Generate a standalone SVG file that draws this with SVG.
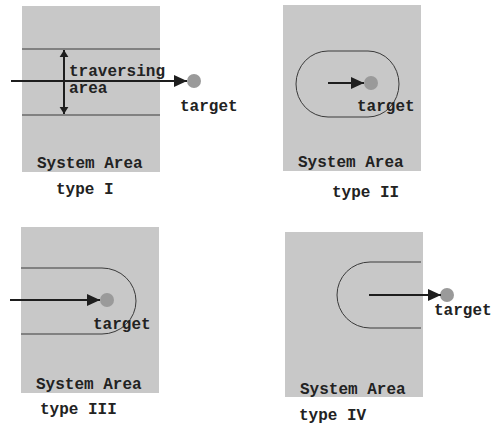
<svg xmlns="http://www.w3.org/2000/svg" width="491" height="424" viewBox="0 0 491 424">
  <defs>
    <marker id="head" viewBox="0 0 13 12" refX="13" refY="6" markerWidth="13" markerHeight="12" markerUnits="userSpaceOnUse" orient="auto-start-reverse">
      <path d="M0,0 L13,6 L0,12 Z" fill="#1e1e1e"/>
    </marker>
    <marker id="headSmall" viewBox="0 0 8 10" refX="8" refY="5" markerWidth="7" markerHeight="10" markerUnits="userSpaceOnUse" orient="auto-start-reverse">
      <path d="M0,0 L8,5 L0,10 Z" fill="#1e1e1e"/>
    </marker>
  </defs>
  <style>
    .area { fill: #c8c8c8; }
    .edge { fill: none; stroke: #3a3a3a; stroke-width: 1; }
    .arrow { fill: none; stroke: #1e1e1e; stroke-width: 2; marker-end: url(#head); }
    .span { fill: none; stroke: #1e1e1e; stroke-width: 2; marker-start: url(#headSmall); marker-end: url(#headSmall); }
    .target { fill: #9a9a9a; }
    text { font-family: "Liberation Mono", "DejaVu Sans Mono", monospace; font-size: 16px; font-weight: bold; fill: #222222; }
  </style>
  <rect width="491" height="424" fill="#ffffff"/>

  <!-- type I: traversing band across the area -->
  <g id="type-1">
    <rect class="area" x="22" y="6" width="138" height="166"/>
    <line class="edge" x1="22" y1="49" x2="160" y2="49"/>
    <line class="edge" x1="22" y1="115" x2="160" y2="115"/>
    <circle class="target" cx="194" cy="81" r="7"/>
    <text x="69" y="76">traversing</text>
    <text x="69" y="93">area</text>
    <text x="180" y="111">target</text>
    <text x="37" y="168">System Area</text>
    <text x="56" y="194">type I</text>
  </g>

  <!-- type II: closed loop around the target -->
  <g id="type-2">
    <rect class="area" x="283" y="5" width="138" height="166"/>
    <path class="edge" d="M328,51 L368,51 A31,33 0 0 1 368,117 L328,117 A32,33 0 0 1 328,51 Z"/>
    <circle class="target" cx="371" cy="83" r="7"/>
    <text x="357" y="111">target</text>
    <text x="298" y="167">System Area</text>
    <text x="332" y="197">type II</text>
  </g>

  <!-- type III: band entering from the left, closed on the right -->
  <g id="type-3">
    <rect class="area" x="21" y="227" width="138" height="166"/>
    <path class="edge" d="M21,268 L102,268 A34,33 0 0 1 102,334 L21,334"/>
    <circle class="target" cx="107" cy="300" r="7"/>
    <text x="93" y="329">target</text>
    <text x="36" y="389">System Area</text>
    <text x="40" y="414">type III</text>
  </g>

  <!-- type IV: band leaving to the right, target outside -->
  <g id="type-4">
    <rect class="area" x="285" y="232" width="138" height="165"/>
    <path class="edge" d="M421,262 L370,262 A33,33 0 0 0 370,328 L421,328"/>
    <circle class="target" cx="447" cy="295" r="7"/>
    <text x="434" y="315">target</text>
    <text x="300" y="394">System Area</text>
    <text x="299" y="420">type IV</text>
  </g>

  <g id="connectors">
    <line class="arrow" x1="11" y1="81" x2="187" y2="81"/>
    <line class="span" x1="64" y1="50" x2="64" y2="114"/>
    <line class="arrow" x1="328" y1="83" x2="364" y2="83"/>
    <line class="arrow" x1="10" y1="300" x2="100" y2="300"/>
    <line class="arrow" x1="369" y1="295" x2="441" y2="295"/>
  </g>
</svg>
